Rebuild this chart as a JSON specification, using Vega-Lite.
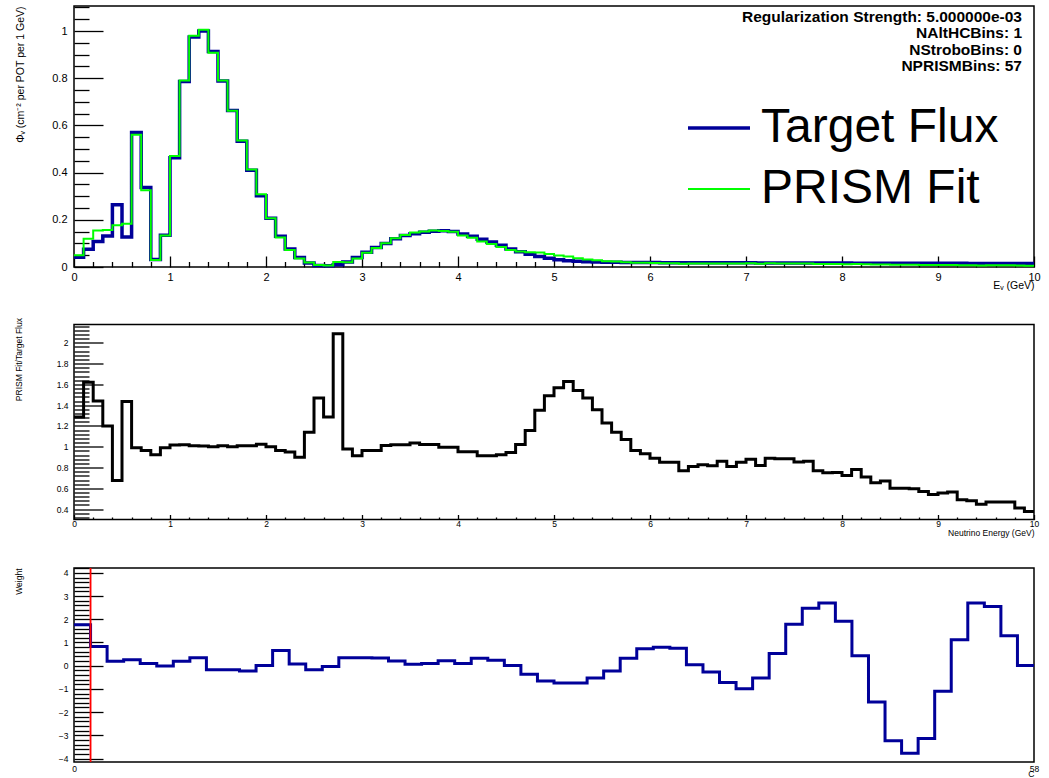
{
  "$schema": "https://vega.github.io/schema/vega-lite/v6.json",
  "background": "white",
  "padding": {"left": 13, "top": 0, "right": 5, "bottom": 0},
  "spacing": 24.5,
  "config": {
    "font": "Liberation Sans",
    "view": {"stroke": "#000", "strokeWidth": 1.5},
    "axis": {"domain": false, "grid": false, "tickColor": "#000", "tickWidth": 1.3, "labelColor": "#000", "titleColor": "#000", "titleFontWeight": "normal", "labelFont": "Liberation Sans", "titleFont": "Liberation Sans", "labelOverlap": false, "labelFlush": false}
  },
  "datasets": {
    "flux": [
      {"E": 0, "target": 0.041, "fit": 0.05, "ratio": 1.285},
      {"E": 0.1, "target": 0.075, "fit": 0.12, "ratio": 1.62},
      {"E": 0.2, "target": 0.108, "fit": 0.155, "ratio": 1.44},
      {"E": 0.3, "target": 0.131, "fit": 0.157, "ratio": 1.2},
      {"E": 0.4, "target": 0.264, "fit": 0.177, "ratio": 0.676},
      {"E": 0.5, "target": 0.127, "fit": 0.183, "ratio": 1.436},
      {"E": 0.6, "target": 0.57, "fit": 0.56, "ratio": 0.99},
      {"E": 0.7, "target": 0.337, "fit": 0.325, "ratio": 0.965},
      {"E": 0.8, "target": 0.032, "fit": 0.03, "ratio": 0.923},
      {"E": 0.9, "target": 0.135, "fit": 0.134, "ratio": 0.99},
      {"E": 1.0, "target": 0.463, "fit": 0.47, "ratio": 1.016},
      {"E": 1.1, "target": 0.786, "fit": 0.79, "ratio": 1.02},
      {"E": 1.2, "target": 0.975, "fit": 0.98, "ratio": 1.01},
      {"E": 1.3, "target": 1.0, "fit": 1.005, "ratio": 1.008},
      {"E": 1.4, "target": 0.913, "fit": 0.908, "ratio": 1.0},
      {"E": 1.5, "target": 0.788, "fit": 0.79, "ratio": 1.01},
      {"E": 1.6, "target": 0.663, "fit": 0.662, "ratio": 1.0},
      {"E": 1.7, "target": 0.533, "fit": 0.536, "ratio": 1.01},
      {"E": 1.8, "target": 0.41, "fit": 0.413, "ratio": 1.01},
      {"E": 1.9, "target": 0.302, "fit": 0.308, "ratio": 1.025},
      {"E": 2.0, "target": 0.207, "fit": 0.207, "ratio": 1.0},
      {"E": 2.1, "target": 0.13, "fit": 0.125, "ratio": 0.965},
      {"E": 2.2, "target": 0.076, "fit": 0.072, "ratio": 0.95},
      {"E": 2.3, "target": 0.04, "fit": 0.036, "ratio": 0.9},
      {"E": 2.4, "target": 0.017, "fit": 0.019, "ratio": 1.14},
      {"E": 2.5, "target": 0.006, "fit": 0.009, "ratio": 1.47},
      {"E": 2.6, "target": 0.005, "fit": 0.0065, "ratio": 1.285},
      {"E": 2.7, "target": 0.01, "fit": 0.021, "ratio": 2.086},
      {"E": 2.8, "target": 0.021, "fit": 0.0205, "ratio": 0.978},
      {"E": 2.9, "target": 0.04, "fit": 0.0365, "ratio": 0.913},
      {"E": 3.0, "target": 0.062, "fit": 0.06, "ratio": 0.965},
      {"E": 3.1, "target": 0.083, "fit": 0.08, "ratio": 0.965},
      {"E": 3.2, "target": 0.1, "fit": 0.101, "ratio": 1.013},
      {"E": 3.3, "target": 0.12, "fit": 0.122, "ratio": 1.02},
      {"E": 3.4, "target": 0.133, "fit": 0.136, "ratio": 1.02},
      {"E": 3.5, "target": 0.141, "fit": 0.146, "ratio": 1.035},
      {"E": 3.6, "target": 0.147, "fit": 0.15, "ratio": 1.022},
      {"E": 3.7, "target": 0.152, "fit": 0.155, "ratio": 1.022},
      {"E": 3.8, "target": 0.154, "fit": 0.153, "ratio": 0.994},
      {"E": 3.9, "target": 0.15, "fit": 0.149, "ratio": 0.994},
      {"E": 4.0, "target": 0.14, "fit": 0.133, "ratio": 0.952},
      {"E": 4.1, "target": 0.13, "fit": 0.124, "ratio": 0.952},
      {"E": 4.2, "target": 0.118, "fit": 0.108, "ratio": 0.913},
      {"E": 4.3, "target": 0.106, "fit": 0.097, "ratio": 0.913},
      {"E": 4.4, "target": 0.092, "fit": 0.085, "ratio": 0.923},
      {"E": 4.5, "target": 0.076, "fit": 0.072, "ratio": 0.945},
      {"E": 4.6, "target": 0.065, "fit": 0.066, "ratio": 1.022},
      {"E": 4.7, "target": 0.054, "fit": 0.0625, "ratio": 1.157},
      {"E": 4.8, "target": 0.045, "fit": 0.061, "ratio": 1.35},
      {"E": 4.9, "target": 0.037, "fit": 0.055, "ratio": 1.49},
      {"E": 5.0, "target": 0.031, "fit": 0.0486, "ratio": 1.567},
      {"E": 5.1, "target": 0.027, "fit": 0.044, "ratio": 1.628},
      {"E": 5.2, "target": 0.024, "fit": 0.037, "ratio": 1.54},
      {"E": 5.3, "target": 0.022, "fit": 0.0323, "ratio": 1.47},
      {"E": 5.4, "target": 0.021, "fit": 0.0285, "ratio": 1.356},
      {"E": 5.5, "target": 0.02, "fit": 0.0246, "ratio": 1.228},
      {"E": 5.6, "target": 0.02, "fit": 0.0228, "ratio": 1.14},
      {"E": 5.7, "target": 0.019, "fit": 0.0203, "ratio": 1.07},
      {"E": 5.8, "target": 0.019, "fit": 0.0183, "ratio": 0.965},
      {"E": 5.9, "target": 0.019, "fit": 0.0177, "ratio": 0.933},
      {"E": 6.0, "target": 0.019, "fit": 0.0169, "ratio": 0.89},
      {"E": 6.1, "target": 0.0185, "fit": 0.0157, "ratio": 0.85},
      {"E": 6.2, "target": 0.0185, "fit": 0.0157, "ratio": 0.85},
      {"E": 6.3, "target": 0.018, "fit": 0.0139, "ratio": 0.77},
      {"E": 6.4, "target": 0.018, "fit": 0.0146, "ratio": 0.81},
      {"E": 6.5, "target": 0.018, "fit": 0.0149, "ratio": 0.827},
      {"E": 6.6, "target": 0.018, "fit": 0.0147, "ratio": 0.817},
      {"E": 6.7, "target": 0.0178, "fit": 0.0153, "ratio": 0.86},
      {"E": 6.8, "target": 0.0178, "fit": 0.0144, "ratio": 0.81},
      {"E": 6.9, "target": 0.0176, "fit": 0.015, "ratio": 0.85},
      {"E": 7.0, "target": 0.0175, "fit": 0.0154, "ratio": 0.88},
      {"E": 7.1, "target": 0.0174, "fit": 0.0143, "ratio": 0.82},
      {"E": 7.2, "target": 0.0173, "fit": 0.0154, "ratio": 0.89},
      {"E": 7.3, "target": 0.0172, "fit": 0.0152, "ratio": 0.885},
      {"E": 7.4, "target": 0.0171, "fit": 0.0151, "ratio": 0.885},
      {"E": 7.5, "target": 0.017, "fit": 0.0145, "ratio": 0.853},
      {"E": 7.6, "target": 0.017, "fit": 0.0146, "ratio": 0.86},
      {"E": 7.7, "target": 0.0168, "fit": 0.0129, "ratio": 0.77},
      {"E": 7.8, "target": 0.0167, "fit": 0.0125, "ratio": 0.75},
      {"E": 7.9, "target": 0.0166, "fit": 0.0125, "ratio": 0.753},
      {"E": 8.0, "target": 0.0165, "fit": 0.0119, "ratio": 0.724},
      {"E": 8.1, "target": 0.0164, "fit": 0.0128, "ratio": 0.78},
      {"E": 8.2, "target": 0.0163, "fit": 0.0116, "ratio": 0.71},
      {"E": 8.3, "target": 0.0162, "fit": 0.0106, "ratio": 0.654},
      {"E": 8.4, "target": 0.0161, "fit": 0.0108, "ratio": 0.67},
      {"E": 8.5, "target": 0.016, "fit": 0.0096, "ratio": 0.6},
      {"E": 8.6, "target": 0.016, "fit": 0.0096, "ratio": 0.6},
      {"E": 8.7, "target": 0.0159, "fit": 0.0095, "ratio": 0.596},
      {"E": 8.8, "target": 0.0158, "fit": 0.009, "ratio": 0.57},
      {"E": 8.9, "target": 0.0157, "fit": 0.0085, "ratio": 0.54},
      {"E": 9.0, "target": 0.0156, "fit": 0.0087, "ratio": 0.555},
      {"E": 9.1, "target": 0.0155, "fit": 0.0087, "ratio": 0.564},
      {"E": 9.2, "target": 0.0154, "fit": 0.0075, "ratio": 0.49},
      {"E": 9.3, "target": 0.0153, "fit": 0.0073, "ratio": 0.48},
      {"E": 9.4, "target": 0.0152, "fit": 0.0068, "ratio": 0.446},
      {"E": 9.5, "target": 0.0151, "fit": 0.0071, "ratio": 0.468},
      {"E": 9.6, "target": 0.015, "fit": 0.007, "ratio": 0.468},
      {"E": 9.7, "target": 0.015, "fit": 0.007, "ratio": 0.468},
      {"E": 9.8, "target": 0.0149, "fit": 0.0061, "ratio": 0.41},
      {"E": 9.9, "target": 0.0148, "fit": 0.0056, "ratio": 0.378},
      {"E": 10, "target": 0.0148, "fit": 0.0056, "ratio": 0.378}
    ],
    "weight": [
      {"bin": 0, "w": 1.76}, {"bin": 1, "w": 0.83}, {"bin": 2, "w": 0.19}, {"bin": 3, "w": 0.26},
      {"bin": 4, "w": 0.09}, {"bin": 5, "w": -0.01}, {"bin": 6, "w": 0.19}, {"bin": 7, "w": 0.34},
      {"bin": 8, "w": -0.17}, {"bin": 9, "w": -0.17}, {"bin": 10, "w": -0.23}, {"bin": 11, "w": 0.01},
      {"bin": 12, "w": 0.65}, {"bin": 13, "w": 0.07}, {"bin": 14, "w": -0.17}, {"bin": 15, "w": -0.03},
      {"bin": 16, "w": 0.34}, {"bin": 17, "w": 0.34}, {"bin": 18, "w": 0.33}, {"bin": 19, "w": 0.2},
      {"bin": 20, "w": 0.06}, {"bin": 21, "w": 0.1}, {"bin": 22, "w": 0.215}, {"bin": 23, "w": 0.1},
      {"bin": 24, "w": 0.32}, {"bin": 25, "w": 0.23}, {"bin": 26, "w": 0.01}, {"bin": 27, "w": -0.37},
      {"bin": 28, "w": -0.66}, {"bin": 29, "w": -0.75}, {"bin": 30, "w": -0.75}, {"bin": 31, "w": -0.53},
      {"bin": 32, "w": -0.23}, {"bin": 33, "w": 0.32}, {"bin": 34, "w": 0.73}, {"bin": 35, "w": 0.8},
      {"bin": 36, "w": 0.75}, {"bin": 37, "w": 0.04}, {"bin": 38, "w": -0.27}, {"bin": 39, "w": -0.72},
      {"bin": 40, "w": -0.99}, {"bin": 41, "w": -0.53}, {"bin": 42, "w": 0.53}, {"bin": 43, "w": 1.79},
      {"bin": 44, "w": 2.48}, {"bin": 45, "w": 2.7}, {"bin": 46, "w": 1.92}, {"bin": 47, "w": 0.43},
      {"bin": 48, "w": -1.56}, {"bin": 49, "w": -3.23}, {"bin": 50, "w": -3.77}, {"bin": 51, "w": -3.14},
      {"bin": 52, "w": -1.1}, {"bin": 53, "w": 1.12}, {"bin": 54, "w": 2.7}, {"bin": 55, "w": 2.55},
      {"bin": 56, "w": 1.29}, {"bin": 57, "w": 0.01}, {"bin": 58, "w": 0.01}
    ]
  },
  "vconcat": [
    {
      "width": 960,
      "height": 261,
      "title": {
        "text": ["Regularization Strength: 5.000000e-03", "NAltHCBins: 1", "NStroboBins: 0", "NPRISMBins: 57"],
        "anchor": "end", "orient": "top", "frame": "group", "offset": -73.5, "dx": -12,
        "fontSize": 15.5, "fontWeight": "bold", "font": "Liberation Sans", "lineHeight": 16.5, "color": "#000", "align": "right"
      },
      "data": {"name": "flux"},
      "encoding": {
        "x": {
          "field": "E", "type": "quantitative",
          "scale": {"domain": [0, 10], "nice": false, "zero": false},
          "axis": {
            "values": [0,0.2,0.4,0.6,0.8,1,1.2,1.4,1.6,1.8,2,2.2,2.4,2.6,2.8,3,3.2,3.4,3.6,3.8,4,4.2,4.4,4.6,4.8,5,5.2,5.4,5.6,5.8,6,6.2,6.4,6.6,6.8,7,7.2,7.4,7.6,7.8,8,8.2,8.4,8.6,8.8,9,9.2,9.4,9.6,9.8,10],
            "tickSize": {"condition": {"test": "abs(datum.value - round(datum.value)) < 0.001", "value": -11}, "value": -5.5},
            "labelExpr": "abs(datum.value - round(datum.value)) < 0.001 ? format(datum.value, 'd') : ''",
            "labelPadding": 15, "labelFontSize": 11,
            "title": "Eᵥ (GeV)", "titleAnchor": "end", "titleFontSize": 10.5, "titlePadding": -7
          }
        },
        "y": {
          "field": "flux", "type": "quantitative",
          "scale": {"domain": [0, 1.106], "nice": false, "zero": false},
          "axis": {
            "values": [0,0.05,0.1,0.15,0.2,0.25,0.3,0.35,0.4,0.45,0.5,0.55,0.6,0.65,0.7,0.75,0.8,0.85,0.9,0.95,1,1.05,1.1],
            "tickSize": {"condition": {"test": "abs(datum.value*5 - round(datum.value*5)) < 0.001", "value": -29}, "value": -15},
            "labelExpr": "abs(datum.value*5 - round(datum.value*5)) < 0.001 ? format(datum.value, '.1~f') : ''",
            "labelPadding": 36, "labelFontSize": 11,
            "title": "Φᵥ (cm⁻² per POT per 1 GeV)", "titleAnchor": "end", "titleFontSize": 10.5, "titlePadding": 26
          }
        }
      },
      "layer": [
        {
          "transform": [{"fold": ["target", "fit"], "as": ["series", "flux"]}, {"filter": "datum.series === 'target'"}],
          "mark": {"type": "line", "interpolate": "step-after"},
          "encoding": {
            "color": {
              "datum": "Target Flux", "type": "nominal",
              "scale": {"domain": ["Target Flux", "PRISM Fit"], "range": ["#000099", "#00ff00"]},
              "legend": {"orient": "none", "legendX": 612, "legendY": 89, "title": null, "symbolType": "stroke", "symbolSize": 3844, "symbolStrokeWidth": 3.5, "labelFontSize": 48, "labelFont": "Liberation Sans", "labelLimit": 600, "labelOffset": 9, "rowPadding": 5, "padding": 0, "labelColor": "#000"}
            },
            "strokeWidth": {
              "datum": "Target Flux", "type": "ordinal",
              "scale": {"domain": ["Target Flux", "PRISM Fit"], "range": [3.5, 2]},
              "legend": {"orient": "none", "legendX": 612, "legendY": 89, "title": null, "symbolType": "stroke", "symbolSize": 3844, "labelFontSize": 48, "labelFont": "Liberation Sans", "labelLimit": 600, "labelOffset": 9, "rowPadding": 5, "padding": 0, "labelColor": "#000"}
            }
          }
        },
        {
          "transform": [{"fold": ["target", "fit"], "as": ["series", "flux"]}, {"filter": "datum.series === 'fit'"}],
          "mark": {"type": "line", "interpolate": "step-after"},
          "encoding": {
            "color": {"datum": "PRISM Fit", "type": "nominal"},
            "strokeWidth": {"datum": "PRISM Fit", "type": "ordinal"}
          }
        },
        {
          "data": {"values": [{"E": 0.8}, {"E": 5}]},
          "mark": {"type": "rule", "color": "#ff0000", "strokeWidth": 1.8},
          "encoding": {
            "x": {"field": "E", "type": "quantitative"},
            "y": {"datum": 0},
            "y2": {"datum": 1}
          }
        }
      ]
    },
    {
      "width": 960,
      "height": 195,
      "data": {"name": "flux"},
      "mark": {"type": "line", "interpolate": "step-after", "color": "#000", "strokeWidth": 3},
      "encoding": {
        "x": {
          "field": "E", "type": "quantitative",
          "scale": {"domain": [0, 10], "nice": false, "zero": false},
          "axis": {
            "values": [0,0.2,0.4,0.6,0.8,1,1.2,1.4,1.6,1.8,2,2.2,2.4,2.6,2.8,3,3.2,3.4,3.6,3.8,4,4.2,4.4,4.6,4.8,5,5.2,5.4,5.6,5.8,6,6.2,6.4,6.6,6.8,7,7.2,7.4,7.6,7.8,8,8.2,8.4,8.6,8.8,9,9.2,9.4,9.6,9.8,10],
            "tickSize": {"condition": {"test": "abs(datum.value - round(datum.value)) < 0.001", "value": -5}, "value": -2.5},
            "labelExpr": "abs(datum.value - round(datum.value)) < 0.001 ? format(datum.value, 'd') : ''",
            "labelPadding": 5, "labelFontSize": 8.5,
            "title": "Neutrino Energy (GeV)", "titleAnchor": "end", "titleFontSize": 8.5, "titlePadding": -2
          }
        },
        "y": {
          "field": "ratio", "type": "quantitative",
          "scale": {"domain": [0.3, 2.176], "nice": false, "zero": false},
          "axis": {
            "values": [0.32,0.36,0.4,0.44,0.48,0.52,0.56,0.6,0.64,0.68,0.72,0.76,0.8,0.84,0.88,0.92,0.96,1,1.04,1.08,1.12,1.16,1.2,1.24,1.28,1.32,1.36,1.4,1.44,1.48,1.52,1.56,1.6,1.64,1.68,1.72,1.76,1.8,1.84,1.88,1.92,1.96,2,2.04,2.08,2.12,2.16],
            "tickSize": {"condition": {"test": "abs(datum.value*5 - round(datum.value*5)) < 0.001", "value": -29}, "value": -15},
            "labelExpr": "abs(datum.value*5 - round(datum.value*5)) < 0.001 ? format(datum.value, '.1~f') : ''",
            "labelPadding": 35, "labelFontSize": 8.5,
            "title": "PRISM Fit/Target Flux", "titleAnchor": "end", "titleFontSize": 8.5, "titlePadding": 31, "titleY": -7
          }
        }
      }
    },
    {
      "width": 960,
      "height": 194,
      "layer": [
        {
          "data": {"name": "weight"},
          "mark": {"type": "line", "interpolate": "step-after", "color": "#000099", "strokeWidth": 3},
          "encoding": {
            "x": {
              "field": "bin", "type": "quantitative",
              "scale": {"domain": [0, 58], "nice": false, "zero": false},
              "axis": {"values": [0, 58], "ticks": false, "labelPadding": 2, "labelFontSize": 8.5, "title": "C", "titleAnchor": "end", "titleFontSize": 8.5, "titlePadding": -3}
            },
            "y": {
              "field": "w", "type": "quantitative",
              "scale": {"domain": [-4.15, 4.21], "nice": false, "zero": false},
              "axis": {
                "values": [-4,-3.8,-3.6,-3.4,-3.2,-3,-2.8,-2.6,-2.4,-2.2,-2,-1.8,-1.6,-1.4,-1.2,-1,-0.8,-0.6,-0.4,-0.2,0,0.2,0.4,0.6,0.8,1,1.2,1.4,1.6,1.8,2,2.2,2.4,2.6,2.8,3,3.2,3.4,3.6,3.8,4,4.2],
                "tickSize": {"condition": {"test": "abs(datum.value - round(datum.value)) < 0.001", "value": -29}, "value": -15},
                "labelExpr": "abs(datum.value - round(datum.value)) < 0.001 ? format(round(datum.value), 'd') : ''",
                "labelPadding": 35, "labelFontSize": 8.5,
                "title": "Weight", "titleAnchor": "end", "titleFontSize": 8.5, "titlePadding": 31
              }
            }
          }
        },
        {
          "data": {"values": [{"bin": 1}]},
          "mark": {"type": "rule", "color": "#ff0000", "strokeWidth": 1.8},
          "encoding": {"x": {"field": "bin", "type": "quantitative"}}
        }
      ]
    }
  ]
}
